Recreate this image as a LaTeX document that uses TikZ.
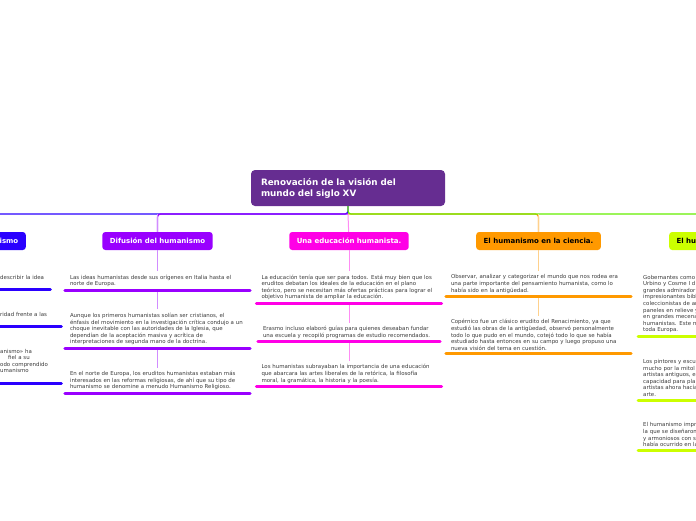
\documentclass[tikz,border=0pt]{standalone}
\usepackage{fontspec}
\setmainfont{DejaVu Sans}
\usetikzlibrary{positioning}

\definecolor{cRoot}{HTML}{662D91}
\definecolor{cBlue}{HTML}{2A00FF}
\definecolor{cPurple}{HTML}{9900FF}
\definecolor{cMagenta}{HTML}{FF00E6}
\definecolor{cOrange}{HTML}{FF9900}
\definecolor{cLime}{HTML}{CCFF00}
\definecolor{cGreen}{HTML}{66EE00}
\definecolor{cText}{HTML}{3A3A3A}

\begin{document}
\begin{tikzpicture}[x=1pt, y=-1pt,
    topic/.style={rounded corners=3pt, fill=#1, text=white, font=\fontsize{7}{8}\selectfont\bfseries, inner xsep=7.5pt, minimum height=18pt},
    note/.style={text=cText, font=\fontsize{5.45}{6.6}\selectfont, align=left, text width=175pt, inner xsep=5pt, inner ysep=3.4pt},
    uline/.style={draw=#1, line width=3pt, line cap=round},
    trunk/.style={draw=#1, line width=1.2pt, rounded corners=3pt},
    stem/.style={draw=#1!45, line width=1pt}]
    \useasboundingbox (0,0) rectangle (696,520);

    % root and branch headings
    \node[fill=cRoot, rounded corners=4pt, text=white, font=\fontsize{8.8}{11}\selectfont\bfseries, align=left, text width=174pt, inner xsep=10pt, minimum height=36pt] (root) at (348,188) {Renovación de la visión del\\mundo del siglo XV};
    \coordinate (hub) at (348,214);
    \node[topic=cBlue, anchor=east, text width=95pt, align=right] (term) at (26,241) {ismo};
    \node[topic=cPurple] (dif) at (157.5,241) {Difusión del humanismo};
    \node[topic=cMagenta] (edu) at (349,241) {Una educación humanista.};
    \node[topic=cOrange, text=black] (sci) at (538.5,241) {El humanismo en la ciencia.};
    \node[topic=cLime, text=black, anchor=west, text width=95pt, align=left] (art) at (669,241) {El hu};

    % connectors from the root
    \draw[trunk=cBlue] (root.south) -- (hub) -| (term);
    \draw[trunk=cOrange] (hub) -| (sci);
    \draw[trunk=cPurple] (hub) -| (dif);
    \draw[trunk=cGreen] (root.south) -- (hub) -| (art);
    \draw[stem=cPurple] (hub -| dif.north) -- (dif.north);
    \draw[stem=cOrange] (hub -| sci.north) -- (sci.north);
    \draw[stem=cMagenta] (hub) -- (edu);

    % left branch (cut by the page edge)
    \node[note, anchor=north west, text width=45pt] (t1) at (-5,271.4) {describir la idea\\\mbox{}};
    \node[note, below=19pt of t1.south west, anchor=north west, text width=56pt] (t2) {ridad frente a las\\\mbox{}};
    \node[note, below=19pt of t2.south west, anchor=north west, text width=56pt] (t3) {anismo» ha\\\hspace*{8pt}fiel a su\\odo comprendido\\umanismo\\\mbox{}};
    \foreach \n in {t1,t2,t3}
        \draw[uline=cBlue] (\n.south west) -- (\n.south east);

    % Difusión del humanismo
    \node[note, below=21pt of dif] (d1) {Las ideas humanistas desde sus orígenes en Italia hasta el\\norte de Europa.};
    \node[note, below=19pt of d1] (d2) {Aunque los primeros humanistas solían ser cristianos, el\\énfasis del movimiento en la investigación crítica condujo a un\\choque inevitable con las autoridades de la Iglesia, que\\dependían de la aceptación masiva y acrítica de\\interpretaciones de segunda mano de la doctrina.};
    \node[note, below=19pt of d2] (d3) {En el norte de Europa, los eruditos humanistas estaban más\\interesados en las reformas religiosas, de ahí que su tipo de\\humanismo se denomine a menudo Humanismo Religioso.};
    \draw[stem=cPurple] (dif) -- (d1);
    \draw[stem=cPurple] (d1) -- (d2);
    \draw[stem=cPurple] (d2) -- (d3);
    \foreach \n in {d1,d2,d3}
        \draw[uline=cPurple] (\n.south west) -- (\n.south east);

    % Una educación humanista
    \node[note, below=21pt of edu] (e1) {La educación tenía que ser para todos. Está muy bien que los\\eruditos debatan los ideales de la educación en el plano\\teórico, pero se necesitan más ofertas prácticas para lograr el\\objetivo humanista de ampliar la educación.};
    \node[note, below=19pt of e1, text width=172pt] (e2) {Erasmo incluso elaboró guías para quienes deseaban fundar\\una escuela y recopiló programas de estudio recomendados.};
    \node[note, below=19pt of e2] (e3) {Los humanistas subrayaban la importancia de una educación\\que abarcara las artes liberales de la retórica, la filosofía\\moral, la gramática, la historia y la poesía.};
    \draw[stem=cMagenta] (edu) -- (e1);
    \draw[stem=cMagenta] (e1) -- (e2);
    \draw[stem=cMagenta] (e2) -- (e3);
    \foreach \n in {e1,e2,e3}
        \draw[uline=cMagenta] (\n.south west) -- (\n.south east);

    % El humanismo en la ciencia
    \node[note, below=21pt of sci] (s1) {Observar, analizar y categorizar el mundo que nos rodea era\\una parte importante del pensamiento humanista, como lo\\había sido en la antigüedad.};
    \node[note, below=19pt of s1] (s2) {Copérnico fue un clásico erudito del Renacimiento, ya que\\estudió las obras de la antigüedad, observó personalmente\\todo lo que pudo en el mundo, cotejó todo lo que se había\\estudiado hasta entonces en su campo y luego propuso una\\nueva visión del tema en cuestión.};
    \draw[stem=cOrange] (sci) -- (s1);
    \draw[stem=cOrange] (s1) -- (s2);
    \foreach \n in {s1,s2}
        \draw[uline=cOrange] (\n.south west) -- (\n.south east);

    % right branch (cut by the page edge)
    \node[note, anchor=north west] (a1) at (638,271.4) {Gobernantes como\\Urbino y Cosme I d\\grandes admirador\\impresionantes bibl\\coleccionistas de ar\\paneles en relieve y\\en grandes mecena\\humanistas. Este m\\toda Europa.};
    \node[note, below=19pt of a1.south west, anchor=north west] (a2) {Los pintores y escu\\mucho por la mitol\\artistas antiguos, e\\capacidad para pla\\artistas ahora hacía\\arte.};
    \node[note, below=19pt of a2.south west, anchor=north west] (a3) {El humanismo impr\\la que se diseñaron\\y armoniosos con s\\había ocurrido en la};
    \foreach \n in {a1,a2,a3}
        \draw[uline=cLime] (\n.south west) -- (\n.south east);
\end{tikzpicture}
\end{document}
